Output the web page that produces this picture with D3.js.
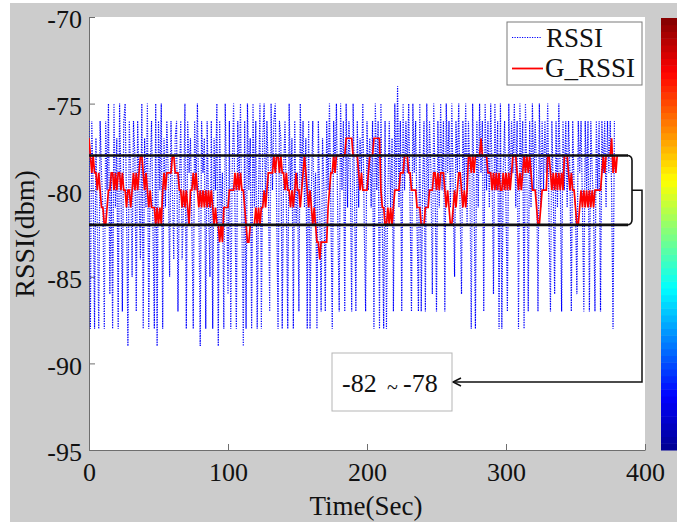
<!DOCTYPE html>
<html>
<head>
<meta charset="utf-8">
<script src="https://cdn.jsdelivr.net/npm/d3@7"></script>
<style>
  body { margin: 0; background: #ffffff; }
  svg { display: block; }
  text { font-family: "Liberation Serif", "Times New Roman", serif; fill: #111; }
</style>
</head>
<body>
<svg id="chart" width="677" height="522"></svg>
<script>
// Raw RSSI samples, one per second (dBm)
const rssi = [
  -76, -88, -76, -80, -88, -77, -82, -88, -76, -79,
  -81, -88, -76, -80, -75, -86, -79, -88, -75, -81,
  -77, -88, -75, -80, -87, -76, -75, -81, -89, -76,
  -79, -85, -76, -78, -87, -76, -80, -84, -75, -88,
  -77, -81, -75, -88, -79, -76, -82, -88, -75, -89,
  -76, -80, -75, -88, -77, -81, -76, -79, -85, -76,
  -80, -84, -77, -76, -87, -80, -76, -84, -81, -75,
  -88, -76, -79, -77, -82, -88, -76, -80, -75, -81,
  -89, -76, -79, -77, -88, -76, -81, -85, -76, -88,
  -77, -80, -75, -89, -76, -82, -79, -88, -75, -80,
  -86, -76, -88, -79, -75, -81, -88, -76, -80, -75,
  -82, -89, -76, -88, -75, -80, -77, -88, -75, -81,
  -76, -88, -80, -75, -88, -77, -75, -81, -76, -79,
  -87, -75, -80, -76, -75, -81, -88, -76, -77, -88,
  -79, -76, -81, -88, -75, -80, -77, -88, -76, -82,
  -79, -87, -75, -80, -76, -81, -77, -88, -76, -88,
  -80, -76, -82, -79, -88, -76, -81, -87, -77, -80,
  -87, -76, -80, -75, -81, -88, -76, -79, -75, -82,
  -87, -75, -80, -76, -87, -75, -81, -76, -79, -87,
  -75, -80, -87, -76, -81, -77, -79, -75, -82, -87,
  -76, -80, -77, -81, -76, -88, -75, -80, -76, -88,
  -75, -82, -88, -76, -88, -80, -76, -81, -77, -87,
  -75, -80, -74, -81, -76, -87, -75, -80, -76, -79,
  -75, -81, -87, -75, -79, -76, -82, -87, -75, -87,
  -80, -76, -87, -75, -81, -76, -79, -86, -75, -80,
  -87, -76, -81, -75, -80, -76, -87, -75, -79, -76,
  -81, -75, -80, -85, -76, -79, -75, -81, -86, -76,
  -80, -75, -82, -76, -79, -88, -75, -80, -88, -76,
  -81, -75, -79, -76, -87, -75, -80, -76, -81, -75,
  -79, -86, -75, -80, -76, -88, -75, -88, -79, -76,
  -81, -87, -75, -80, -76, -79, -75, -81, -76, -88,
  -75, -80, -76, -88, -75, -79, -87, -76, -81, -75,
  -80, -76, -79, -87, -75, -81, -76, -80, -76, -79,
  -75, -82, -87, -76, -80, -86, -76, -81, -75, -79,
  -87, -76, -80, -76, -81, -76, -79, -87, -76, -80,
  -81, -86, -76, -79, -76, -81, -87, -76, -80, -76,
  -87, -76, -79, -81, -87, -76, -80, -76, -87, -76,
  -79, -76, -81, -76, -79, -76, -80, -88, -76
];

// Filtered RSSI (G_RSSI), one per second (dBm)
const gRssi = [
  -77, -78, -79, -78, -79, -79, -80, -79, -80, -81,
  -81, -82, -82, -81, -80, -80, -79, -79, -80, -79,
  -80, -79, -79, -80, -79, -80, -80, -81, -80, -80,
  -81, -80, -79, -80, -79, -80, -79, -78, -78, -79,
  -80, -79, -80, -81, -80, -81, -81, -81, -82, -81,
  -82, -81, -82, -80, -79, -80, -79, -79, -79, -79,
  -78, -78, -79, -79, -79, -80, -80, -81, -80, -81,
  -80, -81, -82, -80, -80, -79, -80, -79, -80, -81,
  -80, -81, -80, -81, -80, -81, -80, -81, -80, -81,
  -82, -81, -82, -82, -83, -82, -83, -81, -81, -81,
  -81, -80, -80, -80, -80, -79, -80, -79, -80, -79,
  -80, -80, -81, -82, -83, -83, -82, -82, -82, -82,
  -81, -82, -81, -82, -81, -81, -80, -81, -80, -79,
  -79, -79, -79, -78, -79, -78, -78, -79, -78, -79,
  -79, -80, -79, -80, -80, -81, -80, -81, -80, -79,
  -80, -80, -81, -80, -79, -78, -79, -80, -81, -80,
  -81, -82, -81, -82, -83, -83, -84, -83, -83, -83,
  -83, -83, -81, -80, -79, -79, -78, -79, -78, -78,
  -78, -78, -78, -78, -78, -77, -77, -77, -77, -77,
  -78, -78, -78, -78, -79, -80, -79, -80, -80, -80,
  -80, -79, -78, -78, -78, -77, -77, -77, -77, -77,
  -80, -81, -81, -82, -82, -81, -82, -81, -82, -81,
  -80, -80, -80, -80, -79, -79, -79, -78, -78, -78,
  -79, -79, -80, -80, -80, -80, -81, -81, -81, -82,
  -82, -82, -81, -81, -81, -80, -80, -80, -79, -79,
  -80, -79, -80, -79, -79, -79, -80, -81, -80, -81,
  -82, -82, -81, -80, -81, -80, -79, -79, -80, -81,
  -80, -81, -80, -78, -78, -79, -78, -79, -78, -78,
  -78, -78, -77, -78, -78, -78, -78, -79, -79, -79,
  -80, -79, -80, -79, -80, -79, -80, -80, -79, -80,
  -79, -80, -79, -80, -79, -78, -78, -78, -79, -80,
  -79, -80, -79, -78, -79, -78, -79, -78, -79, -80,
  -80, -80, -81, -82, -82, -81, -80, -80, -80, -80,
  -78, -78, -79, -80, -79, -80, -79, -80, -79, -80,
  -79, -80, -78, -78, -78, -79, -80, -79, -80, -80,
  -81, -82, -82, -81, -80, -81, -80, -81, -80, -81,
  -80, -81, -80, -81, -80, -80, -80, -80, -80, -79,
  -78, -79, -78, -78, -78, -78, -77, -79, -78, -79,
  -78
];

const xTicks = [0, 100, 200, 300, 400];
const yTicks = [-70, -75, -80, -85, -90, -95];
const seriesNames = ["RSSI", "G_RSSI"];
// Highlighted RSSI band and its callout text
const band = [-82, -78];
const bandText = ["-82", "~", "-78"];
// Jet colormap anchors for the colour bar
const jetStops = ["#00008f", "#0000ff", "#00ffff", "#ffff00", "#ff0000", "#800000"];
const jetPos = [0, 0.125, 0.375, 0.625, 0.875, 1];

const serif = "'Liberation Serif', 'Times New Roman', serif";
const svg = d3.select("#chart");
const W = 677, H = 522;
const plot = { left: 89, right: 645, top: 17, bottom: 450 };

// figure background
svg.append("rect").attr("x", 0).attr("y", 0).attr("width", W).attr("height", H).attr("fill", "#ffffff");
svg.append("rect").attr("x", 10).attr("y", 3).attr("width", W - 10).attr("height", H - 3).attr("fill", "#cccccc");
svg.append("rect").attr("x", plot.left).attr("y", plot.top)
  .attr("width", plot.right - plot.left).attr("height", plot.bottom - plot.top).attr("fill", "#ffffff");

const x = d3.scaleLinear().domain([0, 400]).range([plot.left, plot.right]);
const y = d3.scaleLinear().domain([-95, -70]).range([plot.bottom, plot.top]);

// axes
const xAxis = d3.axisBottom(x).tickValues(xTicks).tickFormat(d3.format("d"))
  .tickSizeInner(-6).tickSizeOuter(0).tickPadding(12.5);
const yAxis = d3.axisLeft(y).tickValues(yTicks).tickFormat(d => String(d))
  .tickSizeInner(-6).tickSizeOuter(0).tickPadding(7);

const gx = svg.append("g").attr("transform", `translate(0,${plot.bottom})`).call(xAxis);
const gy = svg.append("g").attr("transform", `translate(${plot.left},0)`).call(yAxis);
[gx, gy].forEach(g => {
  g.attr("font-family", serif).attr("font-size", 26);
  g.select(".domain").attr("stroke", "#6e6e6e").attr("stroke-width", 1);
  g.selectAll(".tick line").attr("stroke", "#6e6e6e");
  g.selectAll(".tick text").attr("fill", "#111").style("font-family", serif);
});
gy.selectAll(".tick text").attr("dy", "0.42em");

// axis titles
svg.append("text").attr("x", 366).attr("y", 515).attr("text-anchor", "middle")
  .attr("font-size", 27).text("Time(Sec)");
svg.append("text").attr("transform", "translate(34,234) rotate(-90)")
  .attr("text-anchor", "middle").attr("font-size", 28).text("RSSI(dbm)");

// series
svg.append("clipPath").attr("id", "plotclip").append("rect")
  .attr("x", plot.left).attr("y", plot.top).attr("width", plot.right - plot.left).attr("height", plot.bottom - plot.top);

const line = d3.line().x((d, i) => x(i)).y(d => y(d));

svg.append("path").datum(rssi).attr("d", line)
  .attr("fill", "none").attr("stroke", "#0000ff").attr("stroke-width", 1.2)
  .attr("stroke-dasharray", "1.2,1.3").attr("clip-path", "url(#plotclip)");

svg.append("path").datum(gRssi).attr("d", line)
  .attr("fill", "none").attr("stroke", "#ff0000").attr("stroke-width", 1.7)
  .attr("stroke-linejoin", "miter").attr("clip-path", "url(#plotclip)");

// band lines and bracket
const yHi = y(band[1]), yLo = y(band[0]), yMid = y((band[0] + band[1]) / 2);
const bx = 632;
band.forEach(v => {
  svg.append("line").attr("x1", plot.left).attr("x2", bx - 4)
    .attr("y1", y(v)).attr("y2", y(v)).attr("stroke", "#111").attr("stroke-width", 2.6);
});
svg.append("path")
  .attr("d", `M${bx - 5},${yHi} Q${bx},${yHi} ${bx},${yHi + 5} V${yLo - 5} Q${bx},${yLo} ${bx - 5},${yLo}`)
  .attr("fill", "none").attr("stroke", "#111").attr("stroke-width", 1.6);

// callout arrow
const boxX = 332, boxY = 353, boxW = 120, boxH = 58;
const arrowY = 382;
svg.append("path")
  .attr("d", `M${bx},${yMid} H${bx + 10} V${arrowY} H${boxX + boxW + 1}`)
  .attr("fill", "none").attr("stroke", "#111").attr("stroke-width", 1.5);
svg.append("path")
  .attr("d", `M${boxX + boxW + 9},${arrowY - 4} L${boxX + boxW + 1},${arrowY} L${boxX + boxW + 9},${arrowY + 4}`)
  .attr("fill", "none").attr("stroke", "#111").attr("stroke-width", 1.5);

svg.append("rect").attr("x", boxX).attr("y", boxY).attr("width", boxW).attr("height", boxH)
  .attr("fill", "#ffffff").attr("stroke", "#b5b5b5").attr("stroke-width", 1);
svg.append("text").attr("x", 342).attr("y", 392).attr("font-size", 26).text(bandText[0]);
svg.append("text").attr("x", 387).attr("y", 394).attr("font-size", 20).text(bandText[1]);
svg.append("text").attr("x", 403).attr("y", 392).attr("font-size", 26).text(bandText[2]);

// legend
const lg = svg.append("g");
lg.append("rect").attr("x", 507).attr("y", 22).attr("width", 135).attr("height", 63)
  .attr("fill", "#ffffff").attr("stroke", "#7a7a7a").attr("stroke-width", 1);
lg.append("line").attr("x1", 512).attr("x2", 542).attr("y1", 37.5).attr("y2", 37.5)
  .attr("stroke", "#0000ff").attr("stroke-width", 1.2).attr("stroke-dasharray", "1.2,1.3");
lg.append("line").attr("x1", 512).attr("x2", 543).attr("y1", 68.5).attr("y2", 68.5)
  .attr("stroke", "#ff0000").attr("stroke-width", 1.8);
lg.append("text").attr("x", 546).attr("y", 47).attr("font-size", 27).text(seriesNames[0]);
lg.append("text").attr("x", 545).attr("y", 77).attr("font-size", 27).text(seriesNames[1]);

// colour bar (jet, 64 levels, dark red on top)
const jet = d3.scaleLinear().domain(jetPos).range(jetStops).interpolate(d3.interpolateRgb);
const nLev = 64, cbTop = 18, cbBot = 450, cbX = 661;
const cbY = d3.scaleLinear().domain([0, nLev]).range([cbBot, cbTop]);
svg.append("g").selectAll("rect").data(d3.range(nLev)).join("rect")
  .attr("x", cbX).attr("width", 30)
  .attr("y", d => cbY(d + 1)).attr("height", d => cbY(d) - cbY(d + 1) + 0.5)
  .attr("fill", d => jet((d + 0.5) / nLev));
</script>
</body>
</html>
